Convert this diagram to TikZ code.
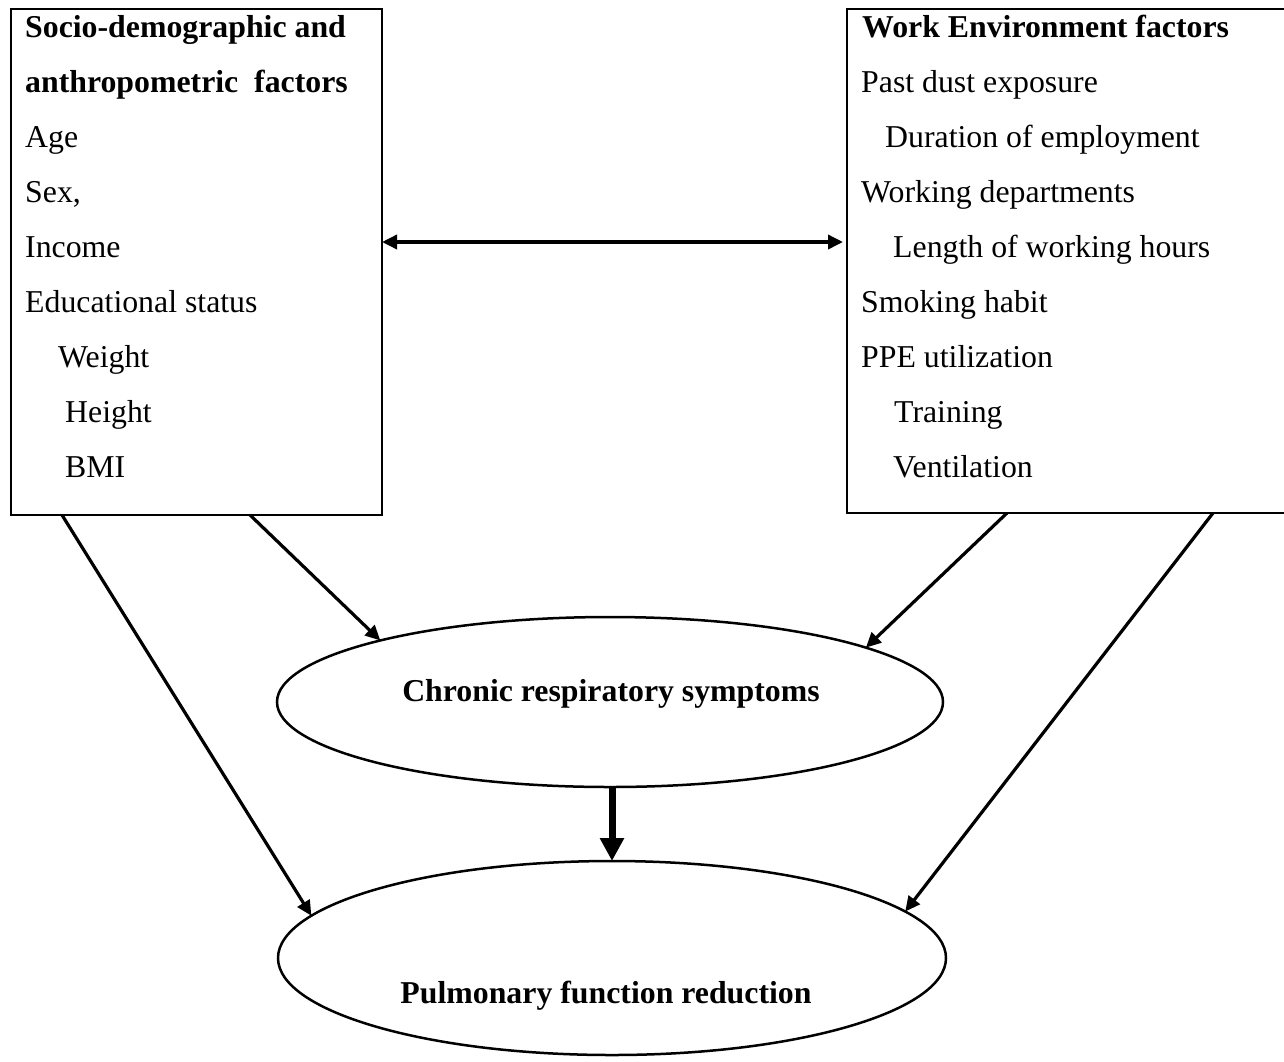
\documentclass[tikz,border=0pt]{standalone}
\usepackage{fontspec}
\setmainfont{Liberation Serif}
\usetikzlibrary{arrows.meta,shapes.geometric}
\begin{document}
\begin{tikzpicture}[x=1pt,y=-1pt,
  box/.style={draw, line width=2.5pt, rectangle, inner sep=0pt, outer sep=0pt, anchor=north west},
  oval/.style={draw, ellipse, line width=2.5pt, inner sep=0pt, outer sep=0pt},
  txt/.style={anchor=base west, inner sep=0pt, font=\fontsize{31.8}{38}\selectfont},
  btxt/.style={anchor=base west, inner sep=0pt, font=\fontsize{31.8}{38}\selectfont\bfseries},
  ctxt/.style={anchor=base, inner sep=0pt, font=\fontsize{31.8}{38}\selectfont\bfseries},
  conn/.style={line width=3.2pt, -{Triangle[length=15pt,width=14pt]}},
  dconn/.style={line width=3.5pt, {Triangle[length=15pt,width=14pt]}-{Triangle[length=15pt,width=14pt]}},
  bigconn/.style={line width=7pt, -{Triangle[length=23pt,width=23pt]}}]
\useasboundingbox (0,0) rectangle (1284,1061);
\clip (0,0) rectangle (1284,1061);
\fill[white] (0,0) rectangle (1284,1061);

% boxes
\node[box, minimum width=371pt, minimum height=506pt] (lbox) at (11,9) {};
\node[box, minimum width=443pt, minimum height=504pt] (rbox) at (847,9) {};

% left box text
\node[btxt] (l1) at (25,37) {Socio-demographic and};
\node[btxt] (l2) at (25,92) {anthropometric\hspace{0.5em}factors};
\node[txt] (l3) at (25,147) {Age};
\node[txt] (l4) at (25,202) {Sex,};
\node[txt] (l5) at (25,257) {Income};
\node[txt] (l6) at (25,312) {Educational status};
\node[txt] (l7) at (58,367) {Weight};
\node[txt] (l8) at (65,422) {Height};
\node[txt] (l9) at (65,477) {BMI};

% right box text
\node[btxt] (r1) at (862,37) {Work Environment factors};
\node[txt] (r2) at (861,92) {Past dust exposure};
\node[txt] (r3) at (885,147) {Duration of employment};
\node[txt] (r4) at (861,202) {Working departments};
\node[txt] (r5) at (893,257) {Length of working hours};
\node[txt] (r6) at (861,312) {Smoking habit};
\node[txt] (r7) at (861,367) {PPE utilization};
\node[txt] (r8) at (894,422) {Training};
\node[txt] (r9) at (893,477) {Ventilation};

% ellipses
\node[oval, minimum width=666pt, minimum height=170pt] (chr) at (610,702) {};
\node[ctxt] (chrt) at (611,701) {Chronic respiratory symptoms};
\node[oval, minimum width=668pt, minimum height=194pt] (pul) at (612,958) {};
\node[ctxt] (pult) at (606,1003) {Pulmonary function reduction};

% connectors
\draw[dconn] ([yshift=20pt]lbox.east) -- ([xshift=-4pt,yshift=20pt]lbox.east -| rbox.west);
\draw[conn] ([xshift=51pt]lbox.south west) -- (pul.172.3);
\draw[conn] ([xshift=239pt]lbox.south west) -- (chr.165.25);
\draw[conn] ([xshift=160pt]rbox.south west) -- (chr.12);
\draw[conn] ([xshift=366pt]rbox.south west) -- (pul.9.1);
\draw[bigconn] ([xshift=2pt]chr.south) -- ([xshift=2pt]chr.south |- pul.north);
\end{tikzpicture}
\end{document}
